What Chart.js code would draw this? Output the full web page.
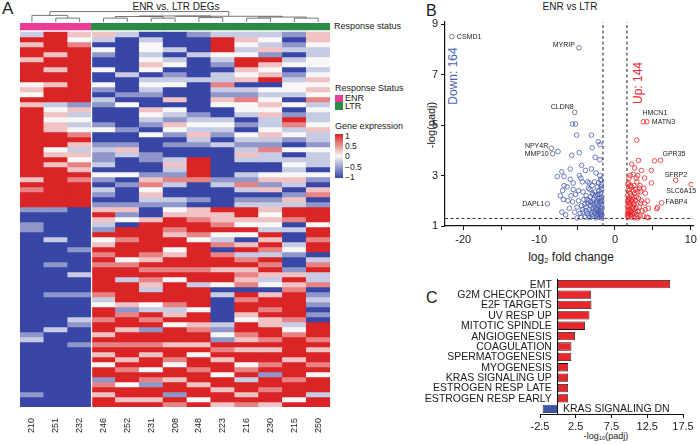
<!DOCTYPE html>
<html>
<head>
<meta charset="utf-8">
<script src="https://cdn.jsdelivr.net/npm/chart.js@4.4.1/dist/chart.umd.min.js"></script>
<style>
body { margin: 0; width: 700px; height: 444px; position: relative; background: #fff; overflow: hidden;
       font-family: 'Liberation Sans', Arial, sans-serif; color: #1a1a1a; }
.t { position: absolute; white-space: nowrap; line-height: 1; }
.rot { transform: translate(-50%, -50%) rotate(-90deg); }
canvas { position: absolute; }
sub { font-size: 0.65em; vertical-align: -0.25em; line-height: 0; }
</style>
</head>
<body>
<!-- panel A -->
<div class="t" style="left:2px;top:0px;font-size:17px">A</div>
<div class="t" style="left:176px;top:2px;font-size:10px;transform:translateX(-50%)">ENR vs. LTR DEGs</div>
<div class="t" style="left:334px;top:22px;font-size:9px">Response status</div>
<div class="t" style="left:335px;top:84px;font-size:9px">Response Status</div>
<div class="t" style="left:335px;top:95px;width:8px;height:7px;background:#ec3c97"></div>
<div class="t" style="left:345px;top:94px;font-size:9px">ENR</div>
<div class="t" style="left:335px;top:102px;width:8px;height:8px;background:#2b8a43"></div>
<div class="t" style="left:345px;top:102px;font-size:9px">LTR</div>
<div class="t" style="left:335px;top:122px;font-size:9px">Gene expression</div>
<div class="t" style="left:335px;top:134px;width:8px;height:44px;background:linear-gradient(to bottom,#da2426,#f7f7f7,#3846a6)"></div>
<div id="scaleTicks"></div>
<canvas id="heat" width="312" height="436" style="left:20px;top:8px"></canvas>

<!-- panel B -->
<div class="t" style="left:426px;top:3px;font-size:16px">B</div>
<div class="t" style="left:570px;top:2px;font-size:10px;transform:translateX(-50%)">ENR vs LTR</div>
<div class="t rot" style="left:431px;top:125px;font-size:11px">-log(padj)</div>
<div class="t" style="left:571px;top:251px;font-size:12px;transform:translateX(-50%)">log<sub>2</sub> fold change</div>
<div class="t rot" style="left:453px;top:76px;font-size:12px;color:#4b63b3">Down: 164</div>
<div class="t rot" style="left:638px;top:83px;font-size:12px;color:#e8262b">Up: 144</div>
<canvas id="volcano" width="300" height="270" style="left:400px;top:0px"></canvas>

<!-- panel C -->
<div class="t" style="left:426px;top:290px;font-size:16px">C</div>
<div class="t" style="left:606px;top:432px;font-size:9px;transform:translateX(-50%)">-log<sub>10</sub>(padj)</div>
<canvas id="gsea" width="300" height="174" style="left:400px;top:270px"></canvas>

<script>
// ---- heatmap (A) ----
const heatSamples = ['210', '251', '232', '246', '252', '231', '208', '248', '223', '216', '230', '215', '250'];
const heatGroups = ['ENR', 'ENR', 'ENR', 'LTR', 'LTR', 'LTR', 'LTR', 'LTR', 'LTR', 'LTR', 'LTR', 'LTR', 'LTR'];
// one letter per gene row: R=1 r=0.55 p=0.25 w=0 l=-0.25 b=-0.55 B=-1
const heatUpper = [
    'lRpRRpRRRRwpwRpRRRRRRRRRRRRRRpRrRRR',
    'RRRRpRRpRRpRRRlwpwppRRRwpRpRRRRRRRR',
    'pwrRRRRRRRRRRRbplwlwrRplpwrpRrRRRRR',
    'plBwbBBwBBwbBlbBBBbwBBblbblBwbBlbBb',
    'lBBBBBBBlBBBbBwBBBBbBBbplBBBwBbBBBb',
    'BlwwlwpwBlwlbBBpwlbBwBBBbbBBbprwplb',
    'BBBlBlwBblwBBpBwlbpwbBbBBlplbrlBBlb',
    'bBBBlBBBBlBBBBBBblwlplbBBRRRRrBBBbB',
    'lRRRwlbBllrlbpwBBlwlbBlBBBBBBblBBBB',
    'lpwlwRRpwpBlbrwwlBbBwlblplBBlbrlBbl',
    'lwlpbRpwpRBwlwpwpllwplbrllBBwpbpBbl',
    'bBblBlwBblwwlBwBbRrlwbBwBlwlwplBbpl',
    'ppwllwwlwpwpwrlwllwpllbwlllBwbBprBb'
];
const heatLower = [
    'bBBbbBBBBBBBBBBBBBBBBBBBBblBBBBBBBBBBbBB',
    'bBBBBBlBBBBbBBBBBbBBBBBBlBBBBBBBBBBBBBBB',
    'BBBBBBBBbBBBBlBBBbBBBBlbBBBbBBBBBBBBBBBB',
    'pRplbRwpRrRrRRRRRrlwRRrRRpRrRpRwRRbrRpRR',
    'pbwBRRrRRRwrRRlRRRRpbrRRpRRrRRpRrRRwRRpR',
    'BBpRRRRRRrpRrRrplRRwlRrRbRRrRpRRwRrbRRpR',
    'wpRRrpRRwpRRrRwRRRRrlpRwRRRpRRrwRRpRRbRr',
    'pprRRrwRRRRRrRRlRRRRwRRprRRpRwRRrRRpRRwR',
    'RpprRwlrBrRRpRRwBlBBBBBlbwbRrRpRRwRRpRRp',
    'RRpwRwBpRlrRprprBRrRRpwRRrpRpRRwrRlRRpRr',
    'pwpwlRpRrlRrRplwBpRRrRppRRrRpRRrRbRRrRRp',
    'RRrBlBBlwbBBbpRprRRRRRrlwrRRRRpRRRrRRRwR',
    'RRRwRRrRRBlrRllrBblbBbBRRRrRpRRrRwRRRlRR'
];
// [left child, right child, height]; leaves are 0..12, merged nodes get ids from 13
const dendroMerges = [[1, 2, 0.35], [0, 13, 0.6], [3, 4, 0.35], [5, 6, 0.35], [15, 16, 0.5], [7, 8, 0.4],
    [17, 18, 0.55], [9, 10, 0.35], [11, 12, 0.35], [20, 21, 0.45], [19, 22, 0.52], [14, 23, 0.95]];
const scaleTickLabels = ['1', '0.5', '0', '\u22120.5', '\u22121'];

// ---- volcano (B) ----
const downFC = [-5.6, -5.2, -5.05, -3.1, -2.2, -2.0, -3.0, -4.7, -5.7, -7.5, -2.0, -2.6, -4.4, -3.1, -5.9, -7.0, -7.6, -6.7, -4.7, -4.5,
    -2.5, -4.3, -3.4, -2.7, -1.9, -6.7, -6.3, -6.9, -7.2, -6.8, -5.8, -5.6, -4.8, -4.2, -3.8, -6.0, -6.5, -5.3, -5.0, -4.6,
    -7.0, -3.5, -3.0, -2.3, -2.1, -1.9, -1.8, -2.0, -2.4, -2.8, -3.2, -3.6, -4.0, -4.4, -2.2, -1.8, -2.6, -3.0, -3.4, -3.8,
    -4.2, -1.9, -2.3, -2.7, -3.1, -3.5, -3.9, -1.8, -2.1, -2.5, -2.9, -3.3, -4.5, -5.0, -1.7, -1.75, -1.75, -2.0, -2.45, -2.85,
    -3.25, -3.7, -4.1, -2.15, -1.8, -1.75, -2.3, -2.65, -3.0, -5.5, -5.9, -5.5, -6.2, -3.6, -2.0, -1.75, -2.2, -4.8, -5.2, -3.9,
    -1.72, -1.85, -1.95, -2.05, -2.1, -2.25, -2.35, -2.5, -2.55, -2.75, -2.9, -3.05, -3.2, -3.45, -3.3, -2.9, -1.9, -2.15, -2.4, -1.72,
    -1.8, -1.95, -3.8, -4.3, -3.65];
const downP = [5.04, 5.04, 4.6, 4.6, 4.34, 4.22, 4.1, 3.9, 3.8, 3.95, 3.63, 3.72, 3.4, 3.26, 3.26, 3.15, 2.96, 2.96, 3.0, 2.9,
    3.1, 2.75, 2.7, 2.75, 2.85, 2.6, 2.55, 2.4, 2.2, 2.05, 2.2, 1.96, 2.4, 2.35, 2.2, 1.7, 1.44, 1.55, 1.75, 1.5,
    1.55, 2.5, 2.6, 2.55, 2.4, 2.3, 2.65, 2.1, 2.0, 2.05, 1.95, 1.9, 1.85, 1.8, 1.8, 1.9, 1.75, 1.7, 1.65, 1.6,
    1.55, 1.6, 1.55, 1.5, 1.45, 1.4, 1.35, 1.4, 1.35, 1.32, 1.38, 1.33, 1.35, 1.32, 1.7, 2.0, 2.45, 1.5, 1.65, 1.85,
    2.15, 2.05, 2.05, 2.7, 1.55, 1.32, 2.25, 2.35, 2.3, 2.7, 2.85, 2.45, 2.0, 2.75, 3.0, 1.8, 1.45, 2.0, 2.25, 3.2,
    2.15, 2.55, 1.75, 1.95, 2.25, 2.1, 1.7, 1.9, 2.2, 1.6, 1.95, 1.55, 1.8, 2.0, 2.45, 2.25, 1.45, 1.6, 1.42, 1.45,
    2.8, 2.0, 1.75, 1.65, 1.5];
const upFC = [2.87, 3.1, 2.2, 2.6, 3.5, 4.8, 5.2, 3.9, 2.4, 3.0, 2.0, 2.9, 3.3, 2.5, 1.8, 2.2, 4.8, 3.8, 4.0, 3.0,
    2.6, 2.0, 1.7, 1.9, 2.3, 2.7, 3.1, 3.5, 3.9, 1.7, 2.0, 2.4, 2.8, 3.2, 3.6, 4.0, 4.4, 5.6, 5.5, 1.7,
    2.1, 2.5, 2.9, 3.3, 1.8, 2.2, 2.6, 3.0, 4.2, 4.4, 1.65, 1.65, 1.7, 2.05, 2.75, 3.4, 1.9, 2.35, 3.0, 3.7,
    1.85, 2.15, 2.45, 1.75, 2.0, 3.35, 4.3, 2.55, 1.65, 1.7, 1.8, 1.9, 2.0, 2.1, 2.25, 2.3, 2.4, 2.6,
    2.7, 2.85, 1.75, 1.95, 2.15, 2.5, 3.2, 2.8, 1.68, 1.8];
const upP = [4.4, 3.6, 3.45, 3.3, 3.2, 3.2, 3.58, 2.9, 3.05, 3.0, 3.0, 2.75, 2.6, 2.6, 2.7, 2.55, 2.7, 2.5, 2.3, 2.35,
    2.3, 2.3, 2.4, 2.1, 2.05, 2.0, 2.1, 2.0, 1.9, 1.95, 1.8, 1.75, 1.7, 1.75, 1.6, 1.65, 1.7, 1.74, 1.68, 1.6,
    1.55, 1.5, 1.45, 1.4, 1.4, 1.35, 1.33, 1.32, 1.35, 1.33, 1.75, 2.2, 1.35, 2.6, 2.45, 1.9, 1.65, 1.95, 1.58, 1.4,
    2.9, 2.2, 1.85, 1.5, 1.45, 2.35, 2.0, 1.65, 1.45, 2.65, 2.05, 1.9, 1.6, 2.0, 1.7, 1.45, 2.4, 1.9,
    1.55, 2.15, 1.8, 2.45, 1.4, 2.15, 2.5, 2.9, 2.0, 1.55];
const labelGenes = ['CSMD1', 'MYRIP', 'CLDN8', 'NPY4R', 'MMP10', 'DAPL1', 'HMCN1', 'MATN3', 'GPR35', 'SFRP2', 'SLC6A15', 'FABP4'];
const labelFC = [-21.5, -4.75, -5.3, -8.4, -8.2, -8.9, 3.75, 4.2, 6.0, 8.0, 10.05, 6.15];
const labelP = [8.5, 8.06, 5.5, 4.08, 3.86, 1.88, 5.13, 5.13, 3.6, 2.81, 2.64, 1.92];
const volXTicks = [-20, -15, -10, -5, 0, 5, 10];
const volXTickLabels = ['-20', '', '-10', '', '0', '', '10'];
const volYTicks = [1, 3, 5, 7, 9];
const fcCut = 1.58;
const padjCut = 1.3;

// ---- hallmark pathways (C) ----
const pathways = ['EMT', 'G2M CHECKPOINT', 'E2F TARGETS', 'UV RESP UP', 'MITOTIC SPINDLE', 'ANGIOGENESIS', 'COAGULATION',
    'SPERMATOGENESIS', 'MYOGENESIS', 'KRAS SIGNALING UP', 'ESTROGEN RESP LATE', 'ESTROGEN RESP EARLY', 'KRAS SIGNALING DN'];
const pathwayScores = [15.7, 4.65, 4.7, 4.42, 3.8, 2.4, 1.9, 1.87, 1.43, 1.43, 1.43, 1.43, -2.13];
const gseaXTicks = [-2.5, 2.5, 7.5, 12.5, 17.5];

Chart.defaults.font.family = "'Liberation Sans', Arial, sans-serif";
Chart.defaults.color = '#1a1a1a';

var RED = '#e8262b', BLUE = '#4a5db0';
var groupColors = { ENR: '#ec3c97', LTR: '#2b8a43' };
var levels = { R: 1, r: 0.55, p: 0.25, w: 0, l: -0.25, b: -0.55, B: -1 };

function heatColor(v) {
    var w = [247, 247, 247], red = [218, 36, 38], blue = [56, 70, 166];
    var end = v >= 0 ? red : blue, t = Math.abs(v);
    return 'rgb(' + w.map(function (c, i) { return Math.round(c + (end[i] - c) * t); }).join(',') + ')';
}

// colour scale tick labels
var st = document.getElementById('scaleTicks');
scaleTickLabels.forEach(function (s, i) {
    var d = document.createElement('div');
    d.className = 't';
    d.style.cssText = 'left:345px;font-size:8.5px;top:' + (132 + i * 10.2) + 'px';
    d.textContent = s;
    st.appendChild(d);
});

var heatCols = heatUpper.map(function (u, i) { return u + heatLower[i]; });
var heatSets = [
    { label: 'Response status', data: heatSamples.map(function () { return 7; }),
      backgroundColor: heatGroups.map(function (g) { return groupColors[g]; }) },
    { label: 'gap', data: heatSamples.map(function () { return 2; }), backgroundColor: 'rgba(0,0,0,0)' }
];
for (var r = 0; r < heatCols[0].length; r++) {
    heatSets.push({
        label: 'gene ' + r,
        data: heatSamples.map(function () { return 5; }),
        backgroundColor: heatCols.map(function (c) { return heatColor(levels[c[r]]); })
    });
}

new Chart(document.getElementById('heat'), {
    type: 'bar',
    data: { labels: heatSamples, datasets: heatSets },
    options: {
        responsive: false, animation: false, events: [],
        layout: { padding: { top: 15, left: 0, right: 0, bottom: 0 } },
        datasets: { bar: { barPercentage: 1, categoryPercentage: 1, borderWidth: 0 } },
        plugins: { legend: { display: false }, tooltip: { enabled: false } },
        scales: {
            x: {
                stacked: true,
                grid: { display: false }, border: { display: false },
                ticks: { minRotation: 90, maxRotation: 90, autoSkip: false, padding: 3, font: { size: 9 } },
                afterFit: function (s) { s.height = 37; }
            },
            y: { stacked: true, display: false, min: 0, max: 384, reverse: true }
        }
    },
    plugins: [{
        id: 'dendro',
        afterDatasetsDraw: function (chart) {
            var ctx = chart.ctx, xs = chart.scales.x, top = chart.chartArea.top;
            var nodes = heatSamples.map(function (s, i) { return { x: xs.getPixelForValue(i), y: top - 1 }; });
            ctx.save();
            // thin white split between the two groups
            var xb = (xs.getPixelForValue(2) + xs.getPixelForValue(3)) / 2;
            ctx.fillStyle = '#fff';
            ctx.fillRect(xb - 0.6, top + 9, 1.2, chart.chartArea.bottom - top - 9);
            ctx.strokeStyle = '#555';
            ctx.lineWidth = 0.8;
            dendroMerges.forEach(function (m) {
                var a = nodes[m[0]], b = nodes[m[1]], y = top - 1 - m[2] * 11;
                ctx.beginPath();
                ctx.moveTo(a.x, a.y); ctx.lineTo(a.x, y); ctx.lineTo(b.x, y); ctx.lineTo(b.x, b.y);
                ctx.stroke();
                nodes.push({ x: (a.x + b.x) / 2, y: y });
            });
            ctx.restore();
        }
    }]
});

// ---- volcano ----
function pts(xs, ys) { return xs.map(function (x, i) { return { x: x, y: ys[i] }; }); }
var circle = { pointRadius: 2.3, pointBorderWidth: 0.8, pointBackgroundColor: 'rgba(0,0,0,0)', showLine: false };
var dash = { showLine: true, pointRadius: 0, borderColor: '#333', borderWidth: 1.1, borderDash: [3, 2.5] };

new Chart(document.getElementById('volcano'), {
    type: 'scatter',
    data: {
        datasets: [
            Object.assign({ label: 'Down', data: pts(downFC, downP), pointBorderColor: BLUE }, circle),
            Object.assign({ label: 'Up', data: pts(upFC, upP), pointBorderColor: RED }, circle),
            Object.assign({ label: 'Named', data: pts(labelFC, labelP),
                pointBorderColor: labelFC.map(function (v) { return v < 0 ? '#5b6080' : RED; }) }, circle),
            Object.assign({ label: 'fc-', data: [{ x: -fcCut, y: 1 }, { x: -fcCut, y: 9.08 }] }, dash),
            Object.assign({ label: 'fc+', data: [{ x: fcCut, y: 1 }, { x: fcCut, y: 9.08 }] }, dash),
            Object.assign({ label: 'padj', data: [{ x: -22.4, y: padjCut }, { x: 10.3, y: padjCut }] }, dash)
        ]
    },
    options: {
        responsive: false, animation: false, events: [],
        layout: { padding: { top: 22, right: 5, left: 0, bottom: 0 } },
        plugins: { legend: { display: false }, tooltip: { enabled: false } },
        scales: {
            x: {
                type: 'linear', min: -22.4, max: 10.3,
                grid: { drawOnChartArea: false, tickLength: 4, color: '#111' },
                border: { color: '#111', width: 1.2 },
                afterBuildTicks: function (s) { s.ticks = volXTicks.map(function (v) { return { value: v }; }); },
                ticks: { font: { size: 11 }, padding: 3, autoSkip: false, maxRotation: 0,
                    callback: function (v, i) { return volXTickLabels[i]; } },
                afterFit: function (s) { s.height = 44; }
            },
            y: {
                min: 1, max: 9.08,
                grid: { drawOnChartArea: false, tickLength: 4, color: '#111' },
                border: { color: '#111', width: 1.2 },
                afterBuildTicks: function (s) { s.ticks = volYTicks.map(function (v) { return { value: v }; }); },
                ticks: { font: { size: 11 }, padding: 3 },
                afterFit: function (s) { s.width = 45; }
            }
        }
    },
    plugins: [{
        id: 'geneLabels',
        afterDatasetsDraw: function (chart) {
            // [dx, dy, align] relative to each named point
            var place = [[5, 0, 'left'], [-4, -3, 'right'], [-1, -5, 'right'], [-3, -2.5, 'right'], [-4, 0, 'right'],
                [-3, 0, 'right'], [-1, -9, 'left'], [5, 0, 'left'], [2, -6, 'left'], [-11, -5, 'left'], [5, 6, 'right'], [4, -1, 'left']];
            var ctx = chart.ctx, xs = chart.scales.x, ys = chart.scales.y;
            ctx.save();
            ctx.font = "7px 'Liberation Sans', Arial, sans-serif";
            ctx.fillStyle = '#222';
            ctx.textBaseline = 'middle';
            labelGenes.forEach(function (g, i) {
                ctx.textAlign = place[i][2];
                ctx.fillText(g, xs.getPixelForValue(labelFC[i]) + place[i][0], ys.getPixelForValue(labelP[i]) + place[i][1]);
            });
            ctx.restore();
        }
    }]
});

// ---- hallmark bars ----
new Chart(document.getElementById('gsea'), {
    type: 'bar',
    data: {
        labels: pathways,
        datasets: [{
            data: pathwayScores,
            backgroundColor: pathwayScores.map(function (v) { return v > 0 ? RED : '#3f55aa'; }),
            borderColor: '#111', borderWidth: 0.8, borderSkipped: false,
            barPercentage: 0.8, categoryPercentage: 1
        }]
    },
    options: {
        indexAxis: 'y', responsive: false, animation: false, events: [],
        layout: { padding: { top: 9, left: 140, right: 17, bottom: 0 } },
        plugins: { legend: { display: false }, tooltip: { enabled: false } },
        scales: {
            x: {
                min: -2.5, max: 17.5,
                grid: { drawOnChartArea: false, tickLength: 4, color: '#111' },
                border: { color: '#111', width: 1 },
                afterBuildTicks: function (s) { s.ticks = gseaXTicks.map(function (v) { return { value: v }; }); },
                ticks: { font: { size: 11 }, padding: 2, maxRotation: 0,
                    callback: function (v) { return String(v); } },
                afterFit: function (s) { s.height = 30; }
            },
            y: {
                position: { x: 0 },
                grid: { display: false },
                ticks: { display: false },
                border: { color: '#111', width: 1 }
            }
        }
    },
    plugins: [{
        id: 'pathLabels',
        afterDatasetsDraw: function (chart) {
            var ctx = chart.ctx, xs = chart.scales.x, ys = chart.scales.y, x0 = xs.getPixelForValue(0);
            ctx.save();
            ctx.font = "10.5px 'Liberation Sans', Arial, sans-serif";
            ctx.fillStyle = '#1a1a1a';
            ctx.textBaseline = 'middle';
            pathways.forEach(function (p, i) {
                var neg = pathwayScores[i] < 0;
                ctx.textAlign = neg ? 'left' : 'right';
                ctx.fillText(p, neg ? x0 + 5 : x0 - 6, ys.getPixelForValue(i) + 0.5);
            });
            ctx.restore();
        }
    }]
});
</script>
</body>
</html>
